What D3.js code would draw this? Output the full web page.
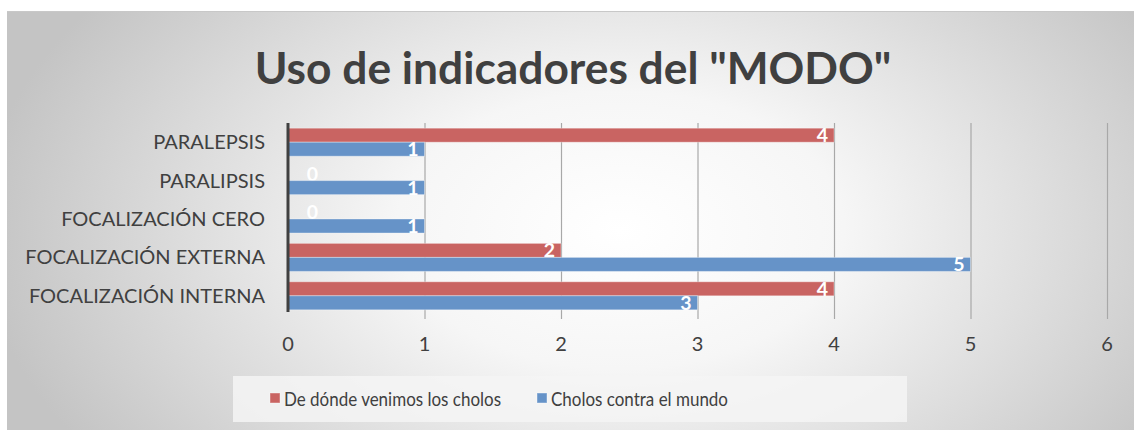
<!DOCTYPE html>
<html>
<head>
<meta charset="utf-8">
<script src="https://cdn.jsdelivr.net/npm/d3@7"></script>
<style>
  html, body { margin: 0; padding: 0; background: #fff; }
  svg { display: block; font-family: Lato, "Open Sans", sans-serif; }
</style>
</head>
<body>
<svg width="1134" height="430"></svg>
<script>
(function(d3) {
    "use strict";

    // data, top to bottom as in the chart
    var categories = ["PARALEPSIS", "PARALIPSIS", "FOCALIZACIÓN CERO", "FOCALIZACIÓN EXTERNA", "FOCALIZACIÓN INTERNA"],
        seriesNames = ["De dónde venimos los cholos", "Cholos contra el mundo"],
        seriesA = [4, 0, 0, 2, 4],
        seriesB = [1, 1, 1, 5, 3],
        xTicks = [0, 1, 2, 3, 4, 5, 6],
        colors = ["#c96462", "#6693c8"];

    var svg = d3.select("svg"),
        defs = svg.append("defs");

    var grad = defs.append("radialGradient").attr("id", "bg")
        .attr("gradientUnits", "userSpaceOnUse")
        .attr("cx", 620).attr("cy", 230).attr("r", 640)
        .attr("gradientTransform", "translate(620,230) scale(1,0.62) translate(-620,-230)");
    grad.append("stop").attr("offset", "0%").attr("stop-color", "#ffffff");
    grad.append("stop").attr("offset", "35%").attr("stop-color", "#f6f6f6");
    grad.append("stop").attr("offset", "100%").attr("stop-color", "#c4c4c4");

    svg.append("rect").attr("x", 7).attr("y", 11).attr("width", 1134 - 7).attr("height", 430 - 11)
        .attr("fill", "url(#bg)");
    svg.append("line").attr("x1", 7).attr("x2", 1134).attr("y1", 11.5).attr("y2", 11.5)
        .attr("stroke", "#c8c8c8");

    var margin = { left: 288, right: 27, top: 123, bottom: 115 },
        width = 1134 - margin.left - margin.right,
        height = 430 - margin.top - margin.bottom;

    var x = d3.scaleLinear().domain([0, 6]).range([0, width]),
        y = d3.scaleBand().domain(categories).range([0, height]).paddingInner(0.27).paddingOuter(0.135),
        y1 = d3.scaleBand().domain([0, 1]).range([0, y.bandwidth()]);

    var g = svg.append("g").attr("transform", "translate(" + margin.left + "," + margin.top + ")");

    // title
    svg.append("text").attr("x", 573).attr("y", 84).attr("text-anchor", "middle")
        .attr("font-size", 44.3).attr("font-weight", "bold").attr("fill", "#404040")
        .text('Uso de indicadores del "MODO"');

    // gridlines
    g.append("g").selectAll("line").data(xTicks.slice(1)).join("line")
        .attr("x1", function(d) { return x(d) + 0.5; })
        .attr("x2", function(d) { return x(d) + 0.5; })
        .attr("y1", 0).attr("y2", height + 4)
        .attr("stroke", "#a8a8a8").attr("stroke-width", 1.2);

    // bars
    var rows = categories.map(function(c, i) {
        return { cat: c, vals: [seriesA[i], seriesB[i]] };
    });

    var grp = g.append("g").selectAll("g").data(rows).join("g")
        .attr("transform", function(d) { return "translate(0," + y(d.cat) + ")"; });

    var cells = grp.selectAll("g").data(function(d) {
        return d.vals.map(function(v, k) { return { v: v, k: k }; });
    }).join("g");

    cells.append("rect")
        .attr("x", 0)
        .attr("y", function(d) { return y1(d.k); })
        .attr("width", function(d) { return x(d.v); })
        .attr("height", y1.bandwidth())
        .attr("fill", function(d) { return colors[d.k]; })
        .attr("stroke", function(d) { return d.v ? "rgba(255,255,255,0.35)" : "none"; })
        .attr("stroke-width", 1);

    cells.append("text")
        .attr("x", function(d) { return d.v ? x(d.v) - 6 : 30; })
        .attr("y", function(d) { return y1(d.k) + y1.bandwidth() / 2 + 7; })
        .attr("text-anchor", "end")
        .attr("font-size", 19.5).attr("font-weight", "bold")
        .attr("fill", "#ffffff")
        .text(function(d) { return d.v; });

    // category axis
    g.append("line").attr("x1", 0).attr("x2", 0).attr("y1", 0).attr("y2", height - 3)
        .attr("stroke", "#404040").attr("stroke-width", 3);

    g.append("g").selectAll("text").data(categories).join("text")
        .attr("x", -23)
        .attr("y", function(d) { return y(d) + y.bandwidth() / 2 + 7; })
        .attr("text-anchor", "end")
        .attr("font-size", 20).attr("fill", "#404040")
        .text(function(d) { return d; });

    // value axis labels
    g.append("g").selectAll("text").data(xTicks).join("text")
        .attr("x", function(d) { return x(d); })
        .attr("y", height + 36)
        .attr("text-anchor", "middle")
        .attr("font-size", 20).attr("fill", "#404040")
        .text(function(d) { return d; });

    // legend
    var lg = svg.append("g");
    lg.append("rect").attr("x", 233).attr("y", 376).attr("width", 674).attr("height", 46)
        .attr("fill", "#f4f4f4").attr("opacity", 0.85);
    var lx = [270, 537],
        lw = [217, 177];
    var items = lg.selectAll("g").data(seriesNames).join("g")
        .attr("transform", function(d, i) { return "translate(" + lx[i] + ",393)"; });
    items.append("rect").attr("width", 10).attr("height", 10)
        .attr("fill", function(d, i) { return colors[i]; })
        .attr("stroke", "rgba(255,255,255,0.4)");
    items.append("text").attr("x", 14).attr("y", 13)
        .attr("font-size", 19).attr("fill", "#404040")
        .attr("textLength", function(d, i) { return lw[i]; })
        .attr("lengthAdjust", "spacingAndGlyphs")
        .text(function(d) { return d; });

}(d3));
</script>
</body>
</html>
